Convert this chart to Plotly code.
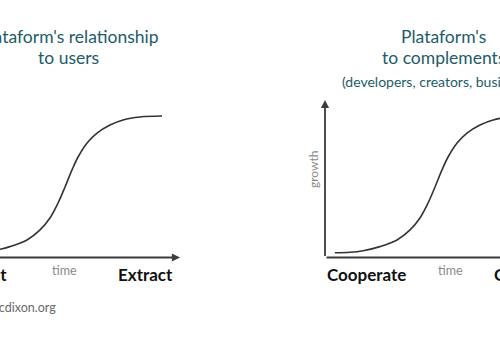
import plotly.graph_objects as go

# S-curve (time, growth), same shape in both panels
time_pts = [0.44, 1.11, 1.69, 2.44, 3.20, 3.78, 4.22, 4.58, 4.89, 5.20, 5.47, 5.87, 6.31, 6.89, 7.47, 8.22, 9.20]
growth_pts = [0.30, 0.33, 0.43, 0.69, 1.11, 1.75, 2.51, 3.46, 4.48, 5.56, 6.38, 7.27, 7.90, 8.41, 8.73, 8.92, 8.98]

axis_max = 10
left_labels = ["Attract", "Extract"]
right_labels = ["Cooperate", "Compete"]
left_title = ["Plataform's relationship", "to users"]
right_title = ["Plataform's", "to complements", "(developers, creators, businesses)"]
x_label = "time"
y_label = "growth"
source = "Source: cdixon.org"

W, H = 500, 350
FONT = "Lato"
TEAL = "#1d5c68"
AX = "#3c3c3c"
GRAY = "#8a8a8a"

def px(x):
    return x / W

def py(y):
    return 1 - y / H

fig = go.Figure()
# right panel uses x, left panel uses x2
for xa in ["x", "x2"]:
    fig.add_trace(go.Scatter(x=time_pts, y=growth_pts, mode="lines", xaxis=xa, yaxis="y",
                             line=dict(color="#333333", width=1.6, shape="spline", smoothing=1.0),
                             hoverinfo="skip", showlegend=False))

ann = []
arrow_style = dict(showarrow=True, arrowhead=2, arrowsize=0.9, arrowwidth=1.8,
                   arrowcolor=AX, text="", standoff=0, startstandoff=0)
for xr in ["x", "x2"]:
    # x axis arrow
    ann.append(dict(x=axis_max, y=0, ax=0, ay=0, xref=xr, yref="y", axref=xr, ayref="y", **arrow_style))
    # y axis arrow
    ann.append(dict(x=0, y=axis_max, ax=0, ay=0, xref=xr, yref="y", axref=xr, ayref="y", **arrow_style))

def text(t, x, y, size, color, xanchor="center", bold=False, angle=0):
    ann.append(dict(text=f"<b>{t}</b>" if bold else t, x=px(x), y=py(y), xref="paper", yref="paper",
                    showarrow=False, xanchor=xanchor, yanchor="middle", textangle=angle,
                    font=dict(family=FONT, size=size, color=color)))

# titles
text(left_title[0], 68.5, 36, 17.5, TEAL)
text(left_title[1], 68.5, 58, 17.5, TEAL)
text(right_title[0], 443.5, 36, 17.5, TEAL)
text(right_title[1], 443.5, 58, 17.5, TEAL)
text(right_title[2], 443.5, 81, 14, TEAL)

# endpoint labels
text(left_labels[0], 9, 274, 17, "#111111", xanchor="right", bold=True)
text(left_labels[1], 175, 274, 17, "#111111", xanchor="right", bold=True)
text(right_labels[0], 325, 274, 17, "#111111", xanchor="left", bold=True)
text(right_labels[1], 492, 274, 17, "#111111", xanchor="left", bold=True)

# axis labels
text(x_label, 64, 270, 12.5, GRAY)
text(x_label, 450, 270, 12.5, GRAY)
text(y_label, 313, 169, 12, GRAY, angle=-90)

text(source, 58, 307, 12.5, "#6a6a6a", xanchor="right")

fig.update_layout(
    width=W, height=H, margin=dict(l=0, r=0, t=0, b=0),
    paper_bgcolor="white", plot_bgcolor="white",
    xaxis=dict(range=[-325 / 22.5, 175 / 22.5], visible=False, fixedrange=True),
    xaxis2=dict(range=[45 / 22.5, 545 / 22.5], visible=False, overlaying="x", fixedrange=True),
    yaxis=dict(range=[-92.5 / 15.75, 257.5 / 15.75], visible=False, fixedrange=True),
    annotations=ann,
)

fig.write_html("out.html")
